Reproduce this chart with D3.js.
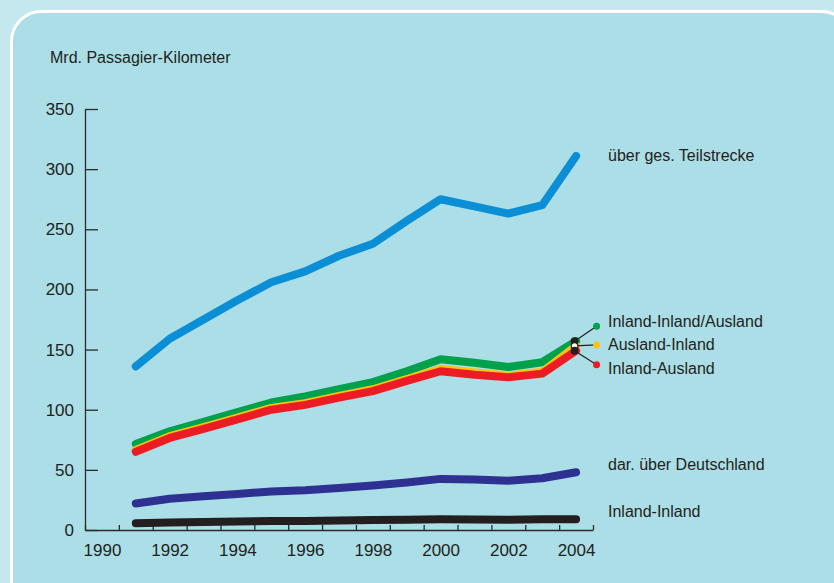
<!DOCTYPE html>
<html>
<head>
<meta charset="utf-8">
<script src="https://cdn.jsdelivr.net/npm/d3@7"></script>
<style>
  html, body { margin: 0; padding: 0; background: #c5e7ee; }
  svg { display: block; }
  text { font-family: "Liberation Sans", Arial, sans-serif; fill: #231f20; }
  .axis path, .axis line { stroke: #2b2b2b; stroke-width: 1.3; }
  .axis text { font-family: "Liberation Sans Narrow", "Liberation Sans", sans-serif; font-size: 17px; fill: #231f20; }
</style>
</head>
<body>
<svg id="chart"></svg>
<script>
// Jahre und Werte (Mrd. Passagier-Kilometer)
const years = [1991, 1992, 1993, 1994, 1995, 1996, 1997, 1998, 1999, 2000, 2001, 2002, 2003, 2004];
const teilstrecke = [136, 159, 175, 191, 206, 215, 228, 238, 257, 275, 269, 263, 270, 311];
const inlandInlandAusland = [71.5, 82, 90, 98, 106, 111, 117, 123, 132, 142, 139, 135.5, 139.5, 157];
const auslandInland = [66.5, 78, 85.5, 93.5, 101.5, 105.5, 111.5, 117, 125.5, 134, 131, 128.5, 131.5, 153];
const inlandAusland = [65, 76.5, 84, 92, 100, 104, 110, 115.5, 124, 132, 129, 127, 130, 149];
const ueberDeutschland = [22, 26, 28, 30, 32, 33, 35, 37, 39.5, 42.5, 42, 41, 43, 48];
const inlandInland = [5.6, 6.2, 6.6, 7, 7.4, 7.5, 8, 8.3, 8.6, 9, 8.8, 8.6, 8.9, 8.9];

const yTicks = [0, 50, 100, 150, 200, 250, 300, 350];
const xLabels = [1990, 1992, 1994, 1996, 1998, 2000, 2002, 2004];
const xTicks = d3.range(1989.5, 2005, 1);

const width = 834, height = 583;
const svg = d3.select('#chart')
    .attr('width', width)
    .attr('height', height);

// Hintergrundfeld mit weißem Rand
svg.append('rect')
    .attr('x', 11.5).attr('y', 11.5)
    .attr('width', 840).attr('height', 600)
    .attr('rx', 30)
    .attr('fill', '#abdee6')
    .attr('stroke', '#ffffff')
    .attr('stroke-width', 3);

const x = d3.scaleLinear().domain([1989.5, 2004.5]).range([85, 593]);
const y = d3.scaleLinear().domain([0, 350]).range([530, 109]);

// Achsen
svg.append('g')
    .attr('class', 'axis')
    .attr('transform', 'translate(85,0)')
    .call(d3.axisLeft(y).tickValues(yTicks).tickSizeInner(-13).tickSizeOuter(0).tickPadding(11))
    .call(g => g.selectAll('text').attr('x', -11));

svg.append('g')
    .attr('class', 'axis')
    .attr('transform', 'translate(0,530)')
    .call(d3.axisBottom(x).tickValues(xTicks).tickSizeInner(-5).tickSizeOuter(0).tickFormat(''));

svg.append('g')
    .attr('class', 'axis')
    .attr('transform', 'translate(0,530)')
    .call(d3.axisBottom(x).tickValues(xLabels).tickSize(0).tickPadding(14).tickFormat(d3.format('d')))
    .call(g => g.select('.domain').remove());

// Einheit
svg.append('text')
    .attr('x', 50).attr('y', 57)
    .attr('dy', '0.35em')
    .style('font-size', '16px')
    .text('Mrd. Passagier-Kilometer');

// Linien
const series = [
    { values: inlandInland, color: '#231f20' },
    { values: ueberDeutschland, color: '#2e3192' },
    { values: teilstrecke, color: '#0a8fd6' },
    { values: inlandInlandAusland, color: '#00a14b' },
    { values: auslandInland, color: '#fdc20f' },
    { values: inlandAusland, color: '#ec1c24' }
];

const line = d3.line()
    .x((d, i) => x(years[i]))
    .y(d => y(d));

svg.append('g').selectAll('path')
    .data(series)
    .join('path')
    .attr('d', d => line(d.values))
    .attr('fill', 'none')
    .attr('stroke', d => d.color)
    .attr('stroke-width', 8)
    .attr('stroke-linecap', 'round')
    .attr('stroke-linejoin', 'round');

// Hinweislinien für die drei gebündelten Reihen
const last = years.length - 1;
const callouts = [
    { values: inlandInlandAusland, color: '#00a14b', fill: '#231f20', dy: -15 },
    { values: auslandInland, color: '#fdc20f', fill: '#ffffff', dy: -1 },
    { values: inlandAusland, color: '#ec1c24', fill: '#231f20', dy: 14 }
];
const cg = svg.append('g');
callouts.forEach(c => {
    const x0 = x(years[last]) - 1.5, y0 = y(c.values[last]);
    cg.append('line')
        .attr('x1', x0).attr('y1', y0)
        .attr('x2', x0 + 22).attr('y2', y0 + c.dy)
        .attr('stroke', '#231f20').attr('stroke-width', 1.2);
    cg.append('circle')
        .attr('cx', x0 + 22).attr('cy', y0 + c.dy)
        .attr('r', 3.5).attr('fill', c.color);
});
callouts.forEach(c => {
    cg.append('circle')
        .attr('cx', x(years[last]) - 1.5).attr('cy', y(c.values[last]))
        .attr('r', 3.3)
        .attr('fill', c.fill)
        .attr('stroke', '#231f20').attr('stroke-width', 1.2);
});

// Beschriftungen
const labels = [
    { text: 'über ges. Teilstrecke', y: 155 },
    { text: 'Inland-Inland/Ausland', y: 321 },
    { text: 'Ausland-Inland', y: 344 },
    { text: 'Inland-Ausland', y: 368 },
    { text: 'dar. über Deutschland', y: 464 },
    { text: 'Inland-Inland', y: 511 }
];
svg.append('g').selectAll('text')
    .data(labels)
    .join('text')
    .attr('x', 608)
    .attr('y', d => d.y)
    .attr('dy', '0.35em')
    .style('font-size', '16px')
    .text(d => d.text);
</script>
</body>
</html>
